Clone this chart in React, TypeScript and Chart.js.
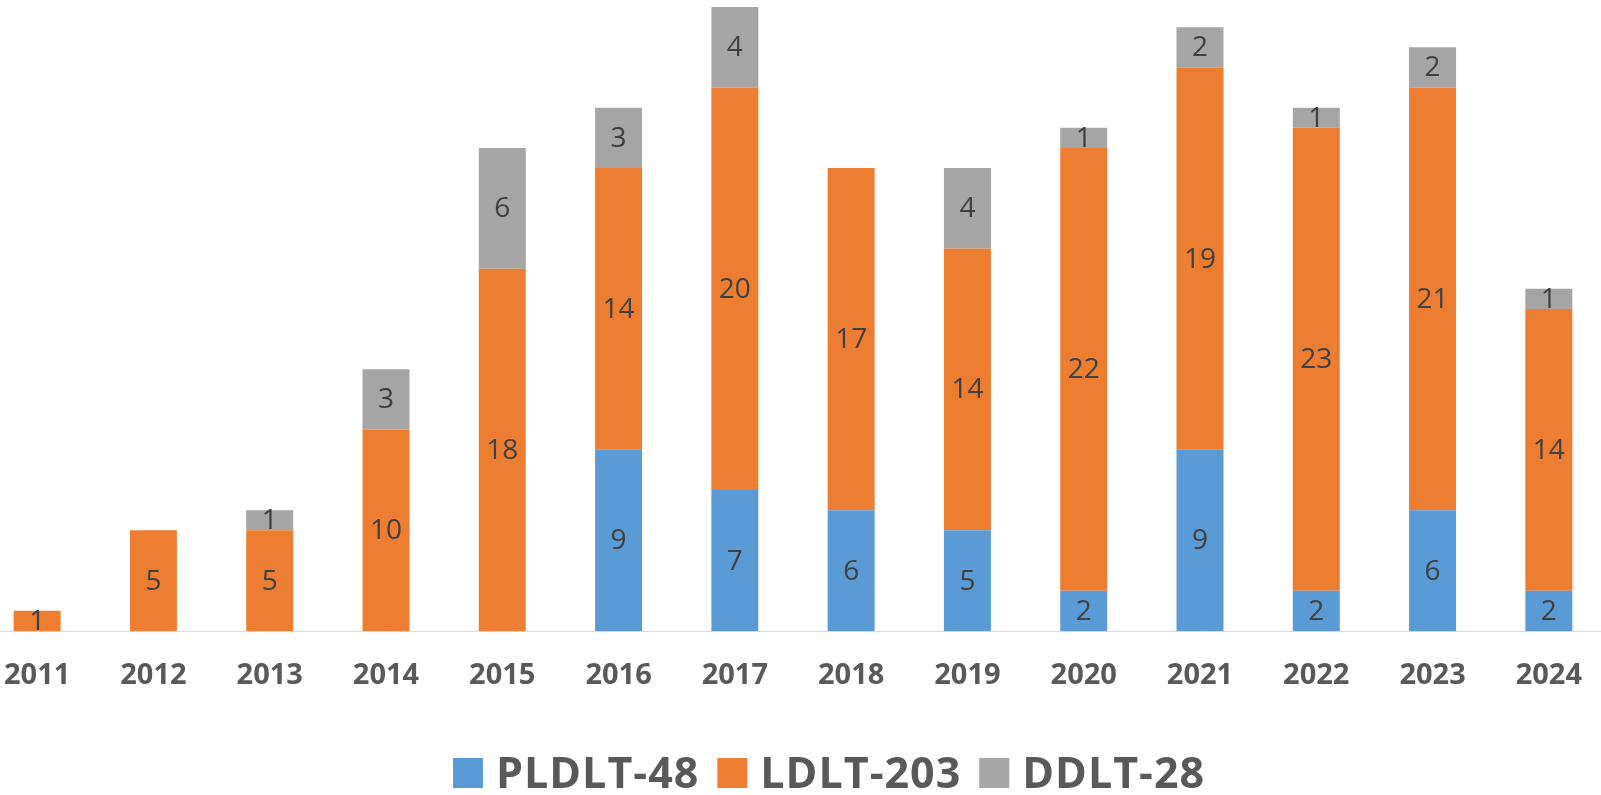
import React, { useEffect, useRef } from "react";
import { Chart, registerables } from "chart.js";

Chart.register(...registerables);

const years = ["2011", "2012", "2013", "2014", "2015", "2016", "2017", "2018", "2019", "2020", "2021", "2022", "2023", "2024"];
const pldlt = [0, 0, 0, 0, 0, 9, 7, 6, 5, 2, 9, 2, 6, 2];
const ldlt = [1, 5, 5, 10, 18, 14, 20, 17, 14, 22, 19, 23, 21, 14];
const ddlt = [0, 0, 1, 3, 6, 3, 4, 0, 4, 1, 2, 1, 2, 1];
const seriesNames = ["PLDLT-48", "LDLT-203", "DDLT-28"];
const seriesColors = ["#5B9BD5", "#ED7D31", "#A5A5A5"];

const CANVAS_SHIFT = 21;
const FONT = "'Open Sans', 'Noto Sans', sans-serif";

const valueLabels = {
  id: "valueLabels",
  afterDatasetsDraw(chart: any) {
    const ctx = chart.ctx;
    ctx.save();
    ctx.font = `normal 28px ${FONT}`;
    ctx.fillStyle = "#404040";
    ctx.textAlign = "center";
    ctx.textBaseline = "middle";
    chart.data.datasets.forEach((ds: any, di: number) => {
      const meta = chart.getDatasetMeta(di);
      meta.data.forEach((el: any, i: number) => {
        const v = ds.data[i];
        if (!v) return;
        const p = el.getProps(["x", "y", "base"], true);
        ctx.fillText(String(v), p.x, (p.y + p.base) / 2 + 1);
      });
    });
    ctx.restore();
  },
};

const customLegend = {
  id: "customLegend",
  afterDraw(chart: any) {
    const ctx = chart.ctx;
    ctx.save();
    ctx.font = `bold 43px ${FONT}`;
    try {
      (ctx as any).letterSpacing = "1px";
    } catch (e) {}
    ctx.textBaseline = "alphabetic";
    ctx.textAlign = "left";
    let x = 453 + CANVAS_SHIFT;
    const boxTop = 758;
    const box = 30;
    seriesNames.forEach((name, i) => {
      ctx.fillStyle = seriesColors[i];
      ctx.fillRect(x, boxTop, box, box);
      ctx.fillStyle = "#595959";
      ctx.fillText(name, x + box + 13, 788);
      const w = ctx.measureText(name).width;
      x = x + box + 13 + w + 18;
    });
    ctx.restore();
  },
};

export default function App() {
  const ref = useRef<HTMLCanvasElement | null>(null);
  useEffect(() => {
    if (!ref.current) return;
    const chart = new Chart(ref.current, {
      type: "bar",
      data: {
        labels: years,
        datasets: [
          { label: seriesNames[0], data: pldlt, backgroundColor: seriesColors[0] },
          { label: seriesNames[1], data: ldlt, backgroundColor: seriesColors[1] },
          { label: seriesNames[2], data: ddlt, backgroundColor: seriesColors[2] },
        ],
      },
      options: {
        animation: false,
        responsive: false,
        maintainAspectRatio: false,
        devicePixelRatio: 1,
        layout: { autoPadding: false, padding: { top: 7, left: 0, right: 0, bottom: 0 } },
        datasets: { bar: { barPercentage: 0.404, categoryPercentage: 1.0 } },
        plugins: { legend: { display: false }, tooltip: { enabled: false } },
        scales: {
          x: {
            stacked: true,
            offset: true,
            grid: { display: false, drawTicks: false },
            border: { display: true, color: "#d9d9d9", width: 1 },
            ticks: {
              color: "#595959",
              font: { family: FONT, size: 29, weight: "bold" },
              padding: 27,
              maxRotation: 0,
              autoSkip: false,
            },
            afterFit: (s: any) => {
              s.height = 164;
              s.paddingLeft = 0;
              s.paddingRight = 0;
            },
          },
          y: { stacked: true, display: false, min: 0, max: 31 },
        },
      },
      plugins: [valueLabels, customLegend],
    } as any);
    return () => chart.destroy();
  }, []);
  return (
    <div style={{ position: "fixed", left: 0, top: 0, width: 1601, height: 795, overflow: "hidden", background: "#fff" }}>
      <canvas
        ref={ref}
        width={1628}
        height={795}
        style={{ position: "absolute", left: -CANVAS_SHIFT, top: 0, width: 1628, height: 795 }}
      />
    </div>
  );
}
